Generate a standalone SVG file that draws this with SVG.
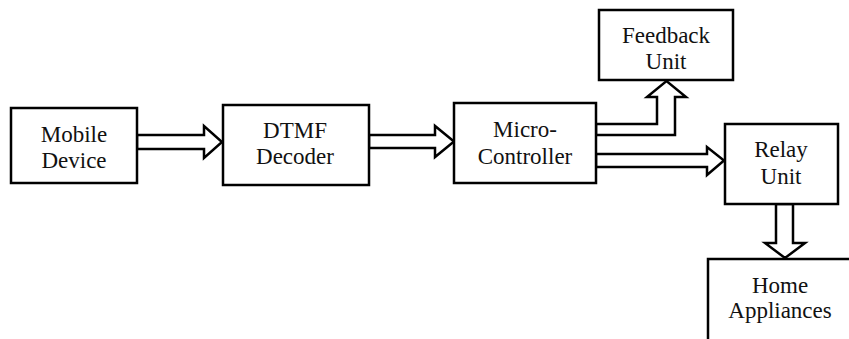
<svg xmlns="http://www.w3.org/2000/svg" width="849" height="339" viewBox="0 0 849 339">
<style>
.box{fill:#fff;stroke:#000;stroke-width:2.5}
.arr{fill:#fff;stroke:#000;stroke-width:2.5;stroke-linejoin:miter}
.t{font-family:'Liberation Serif','DejaVu Serif',serif;font-size:23px;fill:#111;text-anchor:middle}
</style>
<rect width="849" height="339" fill="#fff"/>
<g id="connectors">
<polygon class="arr" points="137,135 204,135 204,126 222,142 204,158 204,149 137,149"/>
<polygon class="arr" points="369,135 435,135 435,126 454,141.5 435,157 435,148 369,148"/>
<polygon class="arr" points="596,124 657,124 657,97 647,97 666.5,81 686,97 675,97 675,135 596,135"/>
<polygon class="arr" points="596,154 707,154 707,147 724,160.5 707,175 707,167 596,167"/>
<polygon class="arr" points="776,204 776,243 765,243 785,258 805,243 793,243 793,204"/>
</g>
<g id="mobile">
<rect class="box" x="11" y="108" width="126" height="75"/>
<text class="t" x="74" y="142">Mobile</text>
<text class="t" x="74" y="168">Device</text>
</g>
<g id="dtmf">
<rect class="box" x="223" y="105" width="146" height="80"/>
<text class="t" x="295" y="138">DTMF</text>
<text class="t" x="295" y="164">Decoder</text>
</g>
<g id="micro">
<rect class="box" x="454" y="103" width="142" height="80"/>
<text class="t" x="525" y="137">Micro-</text>
<text class="t" x="525" y="164">Controller</text>
</g>
<g id="feedback">
<rect class="box" x="599" y="10" width="134" height="70"/>
<text class="t" x="666" y="43">Feedback</text>
<text class="t" x="666" y="69">Unit</text>
</g>
<g id="relay">
<rect class="box" x="725" y="124" width="113" height="80"/>
<text class="t" x="781" y="157">Relay</text>
<text class="t" x="781" y="184">Unit</text>
</g>
<g id="home">
<rect class="box" x="708" y="259" width="150" height="90"/>
<text class="t" x="780" y="293">Home</text>
<text class="t" x="780" y="318">Appliances</text>
</g>
</svg>
